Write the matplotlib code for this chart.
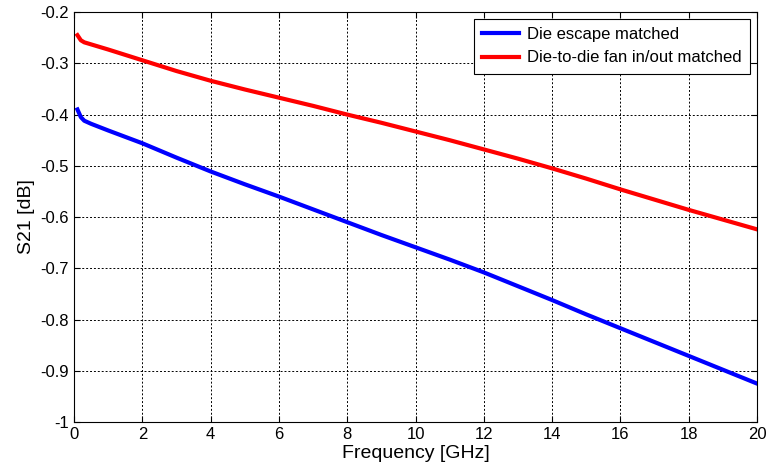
import numpy as np
import matplotlib
matplotlib.use('Agg')
from matplotlib import pyplot as plt

plt.rcParams['font.family'] = ['Liberation Sans', 'DejaVu Sans']

# frequency points [GHz]
freq = [0.1, 0.2, 0.3, 0.5, 1, 2, 3, 4, 5, 6, 7, 8, 9, 10,
        11, 12, 13, 14, 15, 16, 17, 18, 19, 20]
# S21 [dB]
die_escape = [-0.390, -0.405, -0.412, -0.418, -0.431, -0.456, -0.484, -0.511,
              -0.536, -0.560, -0.585, -0.610, -0.635, -0.659, -0.683, -0.708,
              -0.735, -0.762, -0.790, -0.817, -0.844, -0.871, -0.898, -0.925]
die_to_die = [-0.245, -0.255, -0.259, -0.263, -0.273, -0.294, -0.315, -0.334,
              -0.351, -0.367, -0.383, -0.400, -0.416, -0.433, -0.450, -0.468,
              -0.486, -0.505, -0.525, -0.546, -0.566, -0.586, -0.605, -0.624]
labels = ['Die escape matched', 'Die-to-die fan in/out matched']

fig = plt.figure(figsize=(7.67, 4.69), dpi=100)
ax = fig.add_axes([0.0965, 0.1002, 0.8905, 0.874])

ax.plot(freq, die_escape, color='#0000ff', lw=3, label=labels[0])
ax.plot(freq, die_to_die, color='#ff0000', lw=3, label=labels[1])

ax.set_xlim(0, 20)
ax.set_ylim(-1, -0.2)
ax.set_xticks(np.arange(0, 21, 2))
ax.set_yticks(np.arange(-1, -0.19, 0.1))
ax.set_yticklabels(['-1', '-0.9', '-0.8', '-0.7', '-0.6', '-0.5', '-0.4', '-0.3', '-0.2'])
ax.tick_params(direction='in', labelsize=12, length=4, top=True, right=True)
ax.grid(True, color='black', linestyle=(0, (2, 2)), linewidth=0.7)

ax.set_xlabel('Frequency [GHz]', fontsize=14, labelpad=2)
ax.set_ylabel('S21 [dB]', fontsize=14, labelpad=4)

leg = ax.legend(loc='upper right', fontsize=12, fancybox=False, framealpha=1,
                edgecolor='black', handlelength=2.2, borderaxespad=0.4,
                borderpad=0.5, labelspacing=0.5, handletextpad=0.5)
leg.get_frame().set_linewidth(0.8)

fig.savefig('out.png', dpi=100)
